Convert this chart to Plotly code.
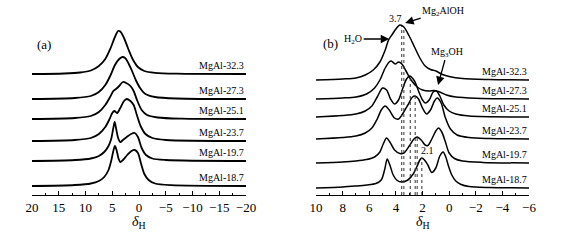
import plotly.graph_objects as go
import numpy as np

# ---------------- Data: panel (a) ----------------
a_labels = ["MgAl-32.3", "MgAl-27.3", "MgAl-25.1", "MgAl-23.7", "MgAl-19.7", "MgAl-18.7"]
a_offsets = [121, 96, 76, 54, 34, 9]

a_x_323 = [20, 14, 11, 9, 7.5, 6.3, 5.3, 4.5, 3.9, 3.5, 2.8, 2.0, 1.2, 0.2, -1, -3, -7, -20]
a_y_323 = [0, 0.5, 1.5, 3.5, 8, 15, 26, 37, 43, 42.5, 36, 25, 15, 7, 3, 1.2, 0.3, 0]

a_x_273 = [20, 12, 9, 7.5, 6.3, 5.3, 4.5, 3.7, 3.1, 2.6, 2.0, 1.3, 0.6, -0.2, -1.2, -3, -7, -20]
a_y_273 = [0, 1, 3, 7, 14, 24, 34, 40, 42, 41, 36, 28, 19, 11, 5, 2, 0.5, 0]

a_x_251 = [20, 12, 9, 7.5, 6.3, 5.4, 4.8, 4.3, 3.7, 3.0, 2.4, 1.6, 1.0, 0.3, -0.5, -1.5, -3.5, -8, -20]
a_y_251 = [0, 1, 3, 7, 14, 22, 28, 30, 33, 37, 36, 33, 28, 18, 9, 4, 1.5, 0.3, 0]

a_x_237 = [20, 12, 9, 7.5, 6.3, 5.5, 5.0, 4.6, 4.1, 3.5, 2.8, 2.3, 1.6, 1.0, 0.4, -0.3, -1.2, -2.5, -5, -20]
a_y_237 = [0, 1, 3, 7, 14, 22, 28, 30, 28, 33, 40, 42, 40, 36, 26, 15, 7, 3, 1, 0]

a_x_197 = [20, 12, 9, 7.5, 6.5, 5.7, 5.2, 4.8, 4.55, 4.3, 3.9, 3.5, 3.0, 2.3, 1.5, 0.8, 0.2, -0.5, -1.3, -2.5, -5, -20]
a_y_197 = [0, 1, 2.5, 5, 9, 15, 22, 33, 39, 33, 23, 19, 21, 24, 27, 28, 24, 13, 6, 2.5, 1, 0]

a_x_187 = [20, 12, 9, 7.5, 6.5, 5.7, 5.2, 4.8, 4.5, 4.2, 3.8, 3.5, 3.0, 2.2, 1.4, 0.8, 0.2, -0.4, -1.0, -1.8, -3, -6, -20]
a_y_187 = [0, 1, 2.5, 5, 9, 16, 25, 35, 40, 36, 27, 24, 26, 31, 35, 36, 33, 22, 12, 6, 2.5, 0.8, 0]

a_xs = [a_x_323, a_x_273, a_x_251, a_x_237, a_x_197, a_x_187]
a_ys = [a_y_323, a_y_273, a_y_251, a_y_237, a_y_197, a_y_187]
a_ticks = [20, 15, 10, 5, 0, -5, -10, -15, -20]

# ---------------- Data: panel (b) ----------------
b_labels = a_labels
b_offsets = [115, 96, 78, 56, 32, 7]

b_x_323 = [10, 8, 7, 6.3, 5.7, 5.2, 4.8, 4.55, 4.3, 4.0, 3.7, 3.4, 3.0, 2.6, 2.2, 1.8, 1.4, 1.0, 0.5, 0, -1, -3, -6]
b_y_323 = [0, 1, 2, 5, 10, 18, 30, 40, 45, 51, 55, 53, 44, 33, 22, 14, 10.5, 9, 5.5, 3.5, 1.5, 0.5, 0]

b_x_273 = [10, 8, 7, 6.2, 5.6, 5.2, 4.8, 4.5, 4.35, 4.05, 3.8, 3.55, 3.2, 2.8, 2.4, 2.0, 1.5, 1.1, 0.7, 0.2, -0.5, -2, -6]
b_y_273 = [0, 1, 2, 5, 11, 19, 31, 37, 38, 35, 37, 35, 27, 18, 12, 9, 8, 8.5, 7, 4, 2, 0.8, 0]

b_x_251 = [10, 8, 7, 6.3, 5.8, 5.4, 5.0, 4.7, 4.4, 4.1, 3.8, 3.5, 3.2, 2.95, 2.6, 2.3, 2.0, 1.8, 1.5, 1.2, 0.95, 0.7, 0.4, 0.0, -0.5, -1.5, -6]
b_y_251 = [0, 1.5, 3, 6, 11, 20, 29, 27, 18, 13, 17, 28, 38, 41, 36, 26, 17, 14, 17, 25, 26, 21, 12, 6, 3, 1, 0]

b_x_237 = [10, 8, 7, 6.3, 5.8, 5.4, 5.1, 4.8, 4.5, 4.1, 3.8, 3.5, 3.1, 2.75, 2.55, 2.3, 2.0, 1.7, 1.4, 1.1, 0.9, 0.6, 0.3, -0.1, -0.6, -1.5, -3, -6]
b_y_237 = [0, 1.5, 3, 6, 11, 20, 29, 33, 29, 21, 20, 25, 34, 42, 43, 40, 31, 25, 29, 38, 41, 36, 22, 10, 4, 1.5, 0.5, 0]

b_x_197 = [10, 8, 7, 6.2, 5.6, 5.2, 4.95, 4.7, 4.45, 4.1, 3.7, 3.4, 3.0, 2.65, 2.4, 2.1, 1.8, 1.6, 1.3, 1.0, 0.8, 0.55, 0.3, 0.0, -0.4, -1, -2.5, -6]
b_y_197 = [0, 1, 2, 3.5, 6, 11, 19, 25, 21, 13, 9.5, 10, 17, 24, 26, 23, 18, 17.5, 24, 32, 35, 31, 22, 10, 4.5, 2, 0.6, 0]

b_x_187 = [10, 8, 7, 6.2, 5.5, 5.1, 4.85, 4.65, 4.45, 4.2, 3.9, 3.55, 3.1, 2.7, 2.4, 2.2, 2.05, 1.85, 1.6, 1.3, 1.0, 0.7, 0.45, 0.25, 0.05, -0.2, -0.5, -0.9, -1.5, -3, -6]
b_y_187 = [0, 1, 2, 3, 4.5, 8, 18, 29, 23, 13, 7.5, 6, 8, 14, 22, 28, 30, 28, 23, 15.5, 20, 32, 36, 31, 22, 13, 7, 3.5, 1.5, 0.5, 0]

b_xs = [b_x_323, b_x_273, b_x_251, b_x_237, b_x_197, b_x_187]
b_ys = [b_y_323, b_y_273, b_y_251, b_y_237, b_y_197, b_y_187]
b_ticks = [10, 8, 6, 4, 2, 0, -2, -4, -6]

# dotted marker lines: position (ppm) and which curve they start from
mark_pos = [3.56, 3.40, 2.92, 2.55, 2.40, 2.05]
mark_curve = [0, 0, 2, 3, 4, 5]

SERIF = "Liberation Serif, Times New Roman, serif"
W, H = 578, 245

fig = go.Figure()

for xs, ys, off in zip(a_xs, a_ys, a_offsets):
    fig.add_trace(go.Scatter(x=xs, y=[v + off for v in ys], mode="lines",
                             line=dict(color="black", width=1.8, shape="spline", smoothing=0.8),
                             xaxis="x", yaxis="y", showlegend=False, hoverinfo="skip"))

for xs, ys, off in zip(b_xs, b_ys, b_offsets):
    fig.add_trace(go.Scatter(x=xs, y=[v + off for v in ys], mode="lines",
                             line=dict(color="black", width=1.5, shape="spline", smoothing=0.8),
                             xaxis="x2", yaxis="y2", showlegend=False, hoverinfo="skip"))

for p, ci in zip(mark_pos, mark_curve):
    xs = b_xs[ci][::-1]
    ys = b_ys[ci][::-1]
    top = float(np.interp(p, xs, ys)) + b_offsets[ci]
    fig.add_trace(go.Scatter(x=[p, p], y=[0, top], mode="lines",
                             line=dict(color="#333333", width=1, dash="dot"),
                             xaxis="x2", yaxis="y2", showlegend=False, hoverinfo="skip"))

axis_common = dict(
    showline=True, linecolor="black", linewidth=1,
    ticks="inside", ticklen=4, tickwidth=1, tickcolor="black",
    showgrid=False, zeroline=False, automargin=False,
    tickfont=dict(family=SERIF, size=13, color="black"),
)

fig.update_layout(
    width=W, height=H,
    margin=dict(l=0, r=0, t=0, b=0, autoexpand=False),
    paper_bgcolor="white", plot_bgcolor="white",
    xaxis=dict(domain=[32 / W, 246 / W], range=[20, -20], tickvals=a_ticks,
               minor=dict(ticks="inside", ticklen=2, tickwidth=1, tickcolor="black", dtick=2.5, tick0=0),
               anchor="y", **axis_common),
    yaxis=dict(domain=[50 / H, 1], range=[0, 195], visible=False, automargin=False),
    xaxis2=dict(domain=[316 / W, 529 / W], range=[10, -6], tickvals=b_ticks,
                minor=dict(ticks="inside", ticklen=2, tickwidth=1, tickcolor="black", dtick=1, tick0=0),
                anchor="y2", **axis_common),
    yaxis2=dict(domain=[50 / H, 1], range=[0, 195], visible=False, anchor="x2", automargin=False),
)

ann = []
lab_font = dict(family=SERIF, size=10, color="black")
# sample labels (right aligned at axis end)
for lab, off in zip(a_labels, a_offsets):
    ann.append(dict(x=-20, y=off, xref="x", yref="y", text=lab, showarrow=False,
                    xanchor="right", yanchor="bottom", yshift=1, font=lab_font))
for lab, off in zip(b_labels, b_offsets):
    ann.append(dict(x=-6, y=off, xref="x2", yref="y2", text=lab, showarrow=False,
                    xanchor="right", yanchor="bottom", yshift=1, font=lab_font))

# axis titles
title_txt = "<i>δ</i><sub>H</sub>"
ann.append(dict(x=0, y=0, xref="x", yref="y", text=title_txt, showarrow=False,
                yanchor="middle", yshift=-27, font=dict(family=SERIF, size=14, color="black")))
ann.append(dict(x=2, y=0, xref="x2", yref="y2", text=title_txt, showarrow=False,
                yanchor="middle", yshift=-27, font=dict(family=SERIF, size=14, color="black")))

ann.append(dict(x=19.5, y=151, xref="x", yref="y", text="(a)", showarrow=False,
                xanchor="left", font=dict(family=SERIF, size=13, color="black")))
ann.append(dict(x=9.6, y=152, xref="x2", yref="y2", text="(b)", showarrow=False,
                xanchor="left", font=dict(family=SERIF, size=13, color="black")))
ann.append(dict(x=4.06, y=177, xref="x2", yref="y2", text="3.7", showarrow=False,
                font=dict(family=SERIF, size=10, color="black")))
ann.append(dict(x=1.65, y=45, xref="x2", yref="y2", text="2.1", showarrow=False,
                font=dict(family=SERIF, size=10, color="black")))

arrow_font = dict(family=SERIF, size=10, color="black")
ann.append(dict(x=4.5, y=156, xref="x2", yref="y2", text="H<sub>2</sub>O", showarrow=True,
                ax=-36, ay=0, arrowhead=2, arrowsize=1.3, arrowwidth=1.3, arrowcolor="black",
                font=arrow_font))
ann.append(dict(x=3.3, y=172, xref="x2", yref="y2", text="Mg<sub>2</sub>AlOH", showarrow=True,
                ax=38, ay=-12, arrowhead=2, arrowsize=1.3, arrowwidth=1.3, arrowcolor="black",
                font=arrow_font))
ann.append(dict(x=0.83, y=110, xref="x2", yref="y2", text="Mg<sub>3</sub>OH", showarrow=True,
                ax=9, ay=-33, arrowhead=2, arrowsize=1.3, arrowwidth=1.3, arrowcolor="black",
                font=arrow_font))

fig.update_layout(annotations=ann)

fig.write_html("out.html",
               config={"displayModeBar": False, "staticPlot": True},
               post_script="document.body.style.margin='0';document.body.style.padding='0';")
